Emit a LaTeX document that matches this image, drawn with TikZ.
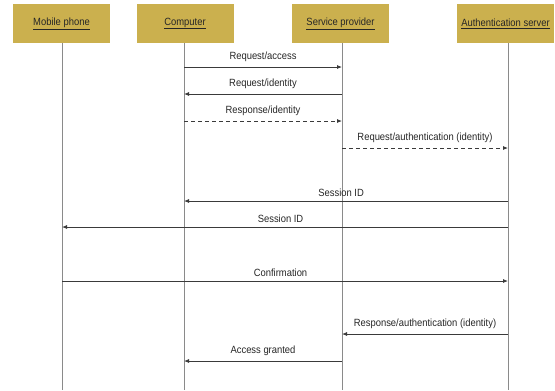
\documentclass[tikz,border=0pt]{standalone}
\usepackage{fontspec}
\setmainfont{Liberation Sans}[FakeStretch=0.9]
\usetikzlibrary{arrows.meta}
\definecolor{boxgold}{HTML}{CBB04E}
\definecolor{lifegray}{HTML}{8A8A8A}
\definecolor{msgdark}{HTML}{3A3A3A}
\tikzset{
  actor/.style={fill=boxgold, draw=none, minimum width=97bp, minimum height=39bp,
    inner sep=0pt, font=\fontsize{10.5}{12}\selectfont, text=black!85},
  lifeline/.style={draw=lifegray, line width=0.9bp},
  msg/.style={draw=msgdark, line width=0.8bp, -{Latex[length=5bp,width=4bp]}},
  reply/.style={msg, dashed, dash pattern=on 4bp off 3bp},
  lbl/.style={font=\fontsize{10.5}{12}\selectfont, text=black!85, inner sep=0pt}
}
\newcommand{\ul}[1]{\underline{#1}}
\begin{document}
\begin{tikzpicture}[x=1bp, y=-1bp]
  \useasboundingbox (0,0) rectangle (555,390);

  % participants
  \node[actor] (phone)  at (61.5,23.5)  {\ul{Mobile phone}};
  \node[actor] (comp)   at (185,23.5)   {\ul{Computer}};
  \node[actor] (sp)     at (340.5,23.5) {\ul{Service provider}};
  \node[actor] (auth)   at (505.5,23.5) {\ul{Authentication server}};

  % lifeline ends
  \coordinate (phoneE) at (62,390);
  \coordinate (compE)  at (184,390);
  \coordinate (spE)    at (342,390);
  \coordinate (authE)  at (508,390);
  \draw[lifeline] (phone.south -| phoneE) -- (phoneE);
  \draw[lifeline] (comp.south -| compE) -- (compE);
  \draw[lifeline] (sp.south -| spE) -- (spE);
  \draw[lifeline] (auth.south -| authE) -- (authE);

  % message rows
  \foreach \n/\y in {a/67, b/94, c/121, d/148, e/201, f/227, g/281, h/334, i/361} {
    \coordinate (P\n) at (62,\y);
    \coordinate (C\n) at (184,\y);
    \coordinate (S\n) at (342,\y);
    \coordinate (A\n) at (508,\y);
  }

  \draw[msg]   (Ca) -- node[lbl, above=4.5bp] {Request/access} (Sa);
  \draw[msg]   (Sb) -- node[lbl, above=4.5bp] {Request/identity} (Cb);
  \draw[reply] (Cc) -- node[lbl, above=4.5bp] {Response/identity} (Sc);
  \draw[reply] (Sd) -- node[lbl, above=4.5bp] {Request/authentication (identity)} (Ad);
  \draw[msg]   (Ae) -- node[lbl, above=4.5bp, pos=0.515] {Session ID} (Ce);
  \draw[msg]   (Af) -- node[lbl, above=4.5bp, pos=0.51] {Session ID} (Pf);
  \draw[msg]   (Pg) -- node[lbl, above=4.5bp, pos=0.49] {Confirmation} (Ag);
  \draw[msg]   (Ah) -- node[lbl, above=4.5bp] {Response/authentication (identity)} (Sh);
  \draw[msg]   (Si) -- node[lbl, above=4.5bp] {Access granted} (Ci);
\end{tikzpicture}
\end{document}
